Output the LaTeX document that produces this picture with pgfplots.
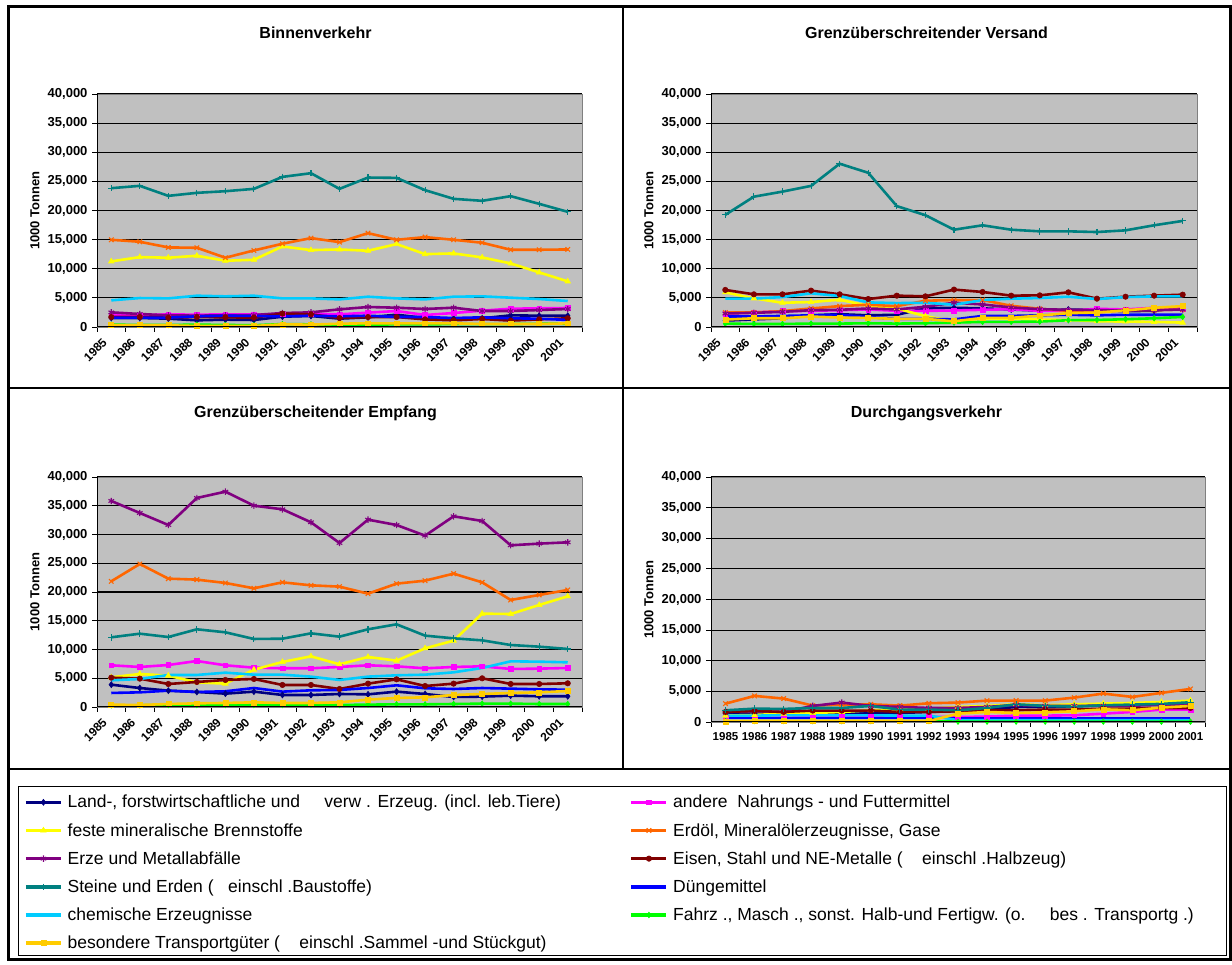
\documentclass[border=0pt]{standalone}
\usepackage{fontspec}
\setmainfont{Liberation Sans}
\usepackage{pgfplots}
\usepackage{pgfplotstable}
\pgfplotsset{compat=1.18}

\definecolor{cNavy}{HTML}{000080}
\definecolor{cMag}{HTML}{FF00FF}
\definecolor{cYel}{HTML}{FFFF00}
\definecolor{cOra}{HTML}{FF6600}
\definecolor{cPur}{HTML}{800080}
\definecolor{cRed}{HTML}{800000}
\definecolor{cTeal}{HTML}{008080}
\definecolor{cBlue}{HTML}{0000FF}
\definecolor{cSky}{HTML}{00CCFF}
\definecolor{cGreen}{HTML}{00FF00}
\definecolor{cGold}{HTML}{FFCC00}
\definecolor{cBg}{HTML}{C0C0C0}

% columns: year land andere feste erdoel erze eisen steine duenge chem fahrz bes
\pgfplotstableread{
year land andere feste erdoel erze eisen steine duenge chem fahrz bes
1985 1540 2000 11260 14970 2510 1710 23830 1600 4570 400 290
1986 1540 2000 12000 14630 2230 1710 24230 1600 4970 350 290
1987 1430 2170 11890 13660 2000 1600 22510 1600 4910 350 290
1988 1140 2110 12230 13600 1950 1710 23030 1830 5370 400 170
1989 1260 2170 11370 11890 2000 1660 23310 1940 5260 350 170
1990 1200 2170 11540 13140 2050 1600 23710 1890 5370 300 170
1991 1770 2170 13830 14290 2400 2290 25770 1830 4910 500 460
1992 1890 2290 13200 15260 2510 2170 26400 1940 4910 450 400
1993 1430 2170 13310 14570 3030 1540 23710 1830 4740 400 570
1994 1660 2460 13090 16110 3430 1710 25660 1940 5200 400 630
1995 2110 2740 14230 14970 3310 1710 25600 1710 4910 450 630
1996 1540 2060 12510 15430 3090 1310 23490 1710 4740 450 630
1997 1430 2400 12630 14970 3310 1140 22000 1540 5200 500 630
1998 1490 2800 11940 14460 2740 1370 21660 1660 5260 500 510
1999 2000 3140 10910 13260 2740 1090 22460 1490 5030 500 510
2000 1940 3200 9370 13260 2910 1310 21140 1430 4800 550 510
2001 1940 3260 7830 13310 3090 1490 19770 1200 4460 550 630
}\tA

\pgfplotstableread{
year land andere feste erdoel erze eisen steine duenge chem fahrz bes
1985 1100 2310 5950 2490 2310 6360 19250 1800 4860 580 1270
1986 1300 2490 4910 2490 2430 5610 22370 1800 4860 520 1500
1987 1500 2720 4160 2720 2600 5610 23240 1900 5140 520 1500
1988 2000 2770 4280 3180 2890 6240 24220 2000 5780 580 1790
1989 2200 2890 4680 3580 2950 5610 28030 2100 5320 580 1620
1990 2000 3010 3640 3820 3180 4800 26470 1700 4220 640 1560
1991 2100 2770 3180 3580 3010 5380 20750 1400 4100 580 1390
1992 3200 2770 1850 4510 3470 5260 19190 1400 4160 640 1390
1993 3300 2830 980 4620 4160 6420 16700 1300 3820 750 980
1994 3200 2950 1450 4620 3870 6010 17460 1900 4620 870 1560
1995 3000 3060 1450 3640 3350 5380 16700 1900 4860 870 1560
1996 2800 2770 1270 3120 3060 5430 16420 2000 4970 930 1970
1997 3000 2770 1210 2770 2950 5950 16420 2100 5200 1160 2370
1998 2900 3120 980 2490 2890 4860 16300 2000 4800 1210 2490
1999 2700 3010 930 2950 2830 5200 16590 2100 5140 1330 2830
2000 2800 3300 870 2890 2890 5380 17460 2100 5260 1500 3300
2001 3300 3180 750 3010 3010 5550 18210 2100 5260 1730 3580
}\tB

\pgfplotstableread{
year land andere feste erdoel erze eisen steine duenge chem fahrz bes
1985 3880 7250 5160 21860 35830 5100 12120 2440 4640 290 410
1986 3300 6960 5740 24870 33740 4930 12750 2550 4870 290 350
1987 2840 7300 5450 22320 31650 4000 12170 2840 5570 350 520
1988 2610 8000 4290 22150 36350 4350 13510 2610 5570 350 640
1989 2320 7250 4060 21570 37450 4700 12990 2730 5970 350 700
1990 2670 6840 6490 20640 35010 4870 11830 3300 5620 350 810
1991 2090 6730 7830 21680 34380 3830 11880 2670 5620 350 700
1992 2090 6730 8810 21160 32120 3830 12810 2900 5280 350 700
1993 2260 6960 7420 20930 28520 3130 12230 2960 4700 350 810
1994 2200 7250 8700 19710 32580 4060 13510 3300 5280 410 1280
1995 2670 7070 8060 21450 31650 4810 14380 3770 5510 460 1570
1996 2260 6730 10200 21970 29800 3650 12410 3250 5620 460 1680
1997 1740 6960 11540 23190 33160 4060 11940 3130 6030 520 2090
1998 1800 7070 16230 21680 32350 4990 11590 3300 6780 580 2260
1999 1970 6610 16170 18610 28120 4000 10780 3190 7940 580 2440
2000 1860 6670 17740 19480 28410 4000 10490 3070 7880 520 2550
2001 1860 6780 19250 20350 28640 4120 10090 3010 7770 520 2780
}\tC

\pgfplotstableread{
year land andere feste erdoel erze eisen steine duenge chem fahrz bes
1985 1360 710 1040 3000 1640 1640 1910 650 1040 150 110
1986 1360 710 1150 4260 1800 1800 2180 650 1040 150 160
1987 1260 710 1360 3820 1640 1640 2130 650 1090 150 160
1988 1260 760 1470 2670 2620 1860 2290 650 1090 150 160
1989 1360 820 1640 2840 3170 1860 2290 650 1090 150 160
1990 1470 820 1910 2890 2620 1860 2620 650 1090 150 160
1991 1470 820 2020 2670 2460 1640 2020 650 1040 150 160
1992 1640 820 2180 3060 2290 1640 2020 650 1040 150 160
1993 1800 820 2460 3170 2290 1750 1910 650 300 50 1360
1994 2020 870 2620 3490 2460 1910 2290 650 300 50 1640
1995 2460 1040 2890 3490 2780 1910 2890 650 300 50 1470
1996 2460 1040 2730 3490 2620 2020 2620 650 300 50 1580
1997 2570 1090 2890 3980 2620 2020 2510 650 300 50 1750
1998 2730 1360 3000 4640 2670 2180 2730 650 300 50 2070
1999 2840 1640 3110 4090 2670 2180 2840 650 300 50 1910
2000 2890 2020 3270 4750 2780 2290 2950 650 300 50 2350
2001 2950 2020 3490 5400 2840 2290 3220 650 300 50 2620
}\tD

\pgfplotsset{
  ser/.style={line width=2.6pt, mark options={solid, line width=0.6pt}},
  s1/.style={ser, color=cNavy, mark=diamond*, mark size=3pt},
  s2/.style={ser, color=cMag, mark=square*, mark size=2.4pt},
  s3/.style={ser, color=cYel, mark=triangle*, mark size=3.2pt},
  s4/.style={ser, color=cOra, mark=x, mark size=3.2pt, mark options={solid,line width=1.1pt}},
  s5/.style={ser, color=cPur, mark=asterisk, mark size=3.2pt, mark options={solid,line width=1.1pt}},
  s6/.style={ser, color=cRed, mark=*, mark size=2.7pt},
  s7/.style={ser, color=cTeal, mark=+, mark size=3.2pt, mark options={solid,line width=1.1pt}},
  s8/.style={ser, color=cBlue, mark=none},
  s9/.style={ser, color=cSky, mark=none},
  s10/.style={ser, color=cGreen, mark=diamond*, mark size=2.8pt},
  s11/.style={ser, color=cGold, mark=square*, mark size=2.5pt},
  panel/.style={
    scale only axis,
    xmin=1984.5, xmax=2001.5, ymin=0, ymax=40000,
    ytick={0,5000,...,40000},
    xtick={1984.5,1985.5,...,2001.5},
    x tick label as interval,
    xticklabels={1985,1986,1987,1988,1989,1990,1991,1992,1993,1994,1995,1996,1997,1998,1999,2000,2001},
    scaled y ticks=false,
    /pgf/number format/1000 sep={,},
    /pgf/number format/assume math mode=true,
    tick pos=left, tick align=outside,
    major tick length=5pt,
    tick style={black, line width=0.9pt},
    axis line style={draw=gray, line width=0.8pt},
    axis background/.style={fill=cBg},
    ymajorgrids, major grid style={black, line width=1.2pt},
    yticklabel style={font=\fontsize{13}{13}\selectfont\bfseries, xshift=-1pt},
    xticklabel style={font=\fontsize{12}{12}\selectfont\bfseries},
    ylabel={1000 Tonnen},
    every axis y label/.style={at={(axis description cs:0,0.5)}, xshift=-62pt, rotate=90, anchor=center,
      font=\fontsize{13}{14}\selectfont\bfseries},
    after end axis/.code={\draw[black, line width=1pt] (rel axis cs:0,1) -- (rel axis cs:0,0) -- (rel axis cs:1,0);},
    clip=true,
  },
  rotlab/.style={xticklabel style={xshift=-4pt, yshift=-6pt, rotate=45, anchor=east}},
}

\newcommand{\panelplots}[1]{%
  \addplot[s1] table[x=year,y=land]{#1};
  \addplot[s2] table[x=year,y=andere]{#1};
  \addplot[s3] table[x=year,y=feste]{#1};
  \addplot[s4] table[x=year,y=erdoel]{#1};
  \addplot[s5] table[x=year,y=erze]{#1};
  \addplot[s6] table[x=year,y=eisen]{#1};
  \addplot[s7] table[x=year,y=steine]{#1};
  \addplot[s8] table[x=year,y=duenge]{#1};
  \addplot[s9] table[x=year,y=chem]{#1};
  \addplot[s10] table[x=year,y=fahrz]{#1};
  \addplot[s11] table[x=year,y=bes]{#1};
}

\begin{document}
\begin{tikzpicture}[x=1pt,y=1pt]
\path[use as bounding box] (0,0) rectangle (1232,965);
% frames
\draw[line width=3pt] (8,5) rectangle (1230,958);
\draw[line width=2.5pt] (623,958) -- (623,196);
\draw[line width=2.5pt] (8,577) -- (1230,577);
\draw[line width=2.5pt] (8,196) -- (1230,196);
\draw[line width=0.8pt] (18,10) rectangle (1226,179);

% titles
\node[font=\fontsize{16}{18}\selectfont\bfseries] at (315.5,932) {Binnenverkehr};
\node[font=\fontsize{16}{18}\selectfont\bfseries] at (926.5,932) {Grenzüberschreitender Versand};
\node[font=\fontsize{16}{18}\selectfont\bfseries] at (315.5,552) {Grenzüberscheitender Empfang};
\node[font=\fontsize{16}{18}\selectfont\bfseries] at (926.5,552) {Durchgangsverkehr};

\begin{axis}[panel, rotlab, at={(97pt,638pt)}, anchor=south west, width=485pt, height=233pt]
\panelplots{\tA}
\end{axis}

\begin{axis}[panel, rotlab, at={(711pt,638pt)}, anchor=south west, width=486pt, height=233pt]
\panelplots{\tB}
\end{axis}

\begin{axis}[panel, rotlab, at={(97pt,258pt)}, anchor=south west, width=485pt, height=230pt]
\panelplots{\tC}
\end{axis}

\begin{axis}[panel, at={(711pt,243pt)}, anchor=south west, width=494pt, height=245pt,
  xticklabel style={font=\fontsize{11.5}{12}\selectfont\bfseries, yshift=-2pt}]
\panelplots{\tD}
\end{axis}

% legend
\begin{axis}[hide axis, scale only axis, at={(18pt,10pt)}, anchor=south west,
  width=1208pt, height=169pt, xmin=0, xmax=1, ymin=0, ymax=1,
  legend columns=2, legend cell align=left,
  legend image code/.code={\draw[#1, line width=3.5pt, mark repeat=2, mark phase=2] plot coordinates {(0pt,0pt) (17.5pt,0pt) (35pt,0pt)};},
  legend style={draw=none, fill=none, at={(axis description cs:0,1)}, anchor=north west,
    font=\fontsize{17.5}{20}\selectfont, inner xsep=6pt, inner ysep=7pt, row sep=10pt,
    /tikz/every odd column/.append style={column sep=3pt},
    /tikz/every even column/.append style={column sep=0pt}}]
\addlegendimage{s1}\addlegendentry{\makebox[560pt][l]{Land-, forstwirtschaftliche und\ \ \ \ \ verw . Erzeug. (incl. leb.Tiere)}}
\addlegendimage{s2}\addlegendentry{\makebox[540pt][l]{andere\ \ Nahrungs - und Futtermittel}}
\addlegendimage{s3}\addlegendentry{feste mineralische Brennstoffe}
\addlegendimage{s4}\addlegendentry{Erdöl, Mineralölerzeugnisse, Gase}
\addlegendimage{s5}\addlegendentry{Erze und Metallabfälle}
\addlegendimage{s6}\addlegendentry{Eisen, Stahl und NE-Metalle (\ \ \ \ einschl .Halbzeug)}
\addlegendimage{s7}\addlegendentry{Steine und Erden (\ \ \ einschl .Baustoffe)}
\addlegendimage{s8}\addlegendentry{Düngemittel}
\addlegendimage{s9}\addlegendentry{chemische Erzeugnisse}
\addlegendimage{s10}\addlegendentry{Fahrz ., Masch ., sonst. Halb-und Fertigw. (o.\ \ \ \ \ bes . Transportg .)}
\addlegendimage{s11}\addlegendentry{besondere Transportgüter (\ \ \ \ einschl .Sammel -und Stückgut)}
\end{axis}
\end{tikzpicture}
\end{document}
